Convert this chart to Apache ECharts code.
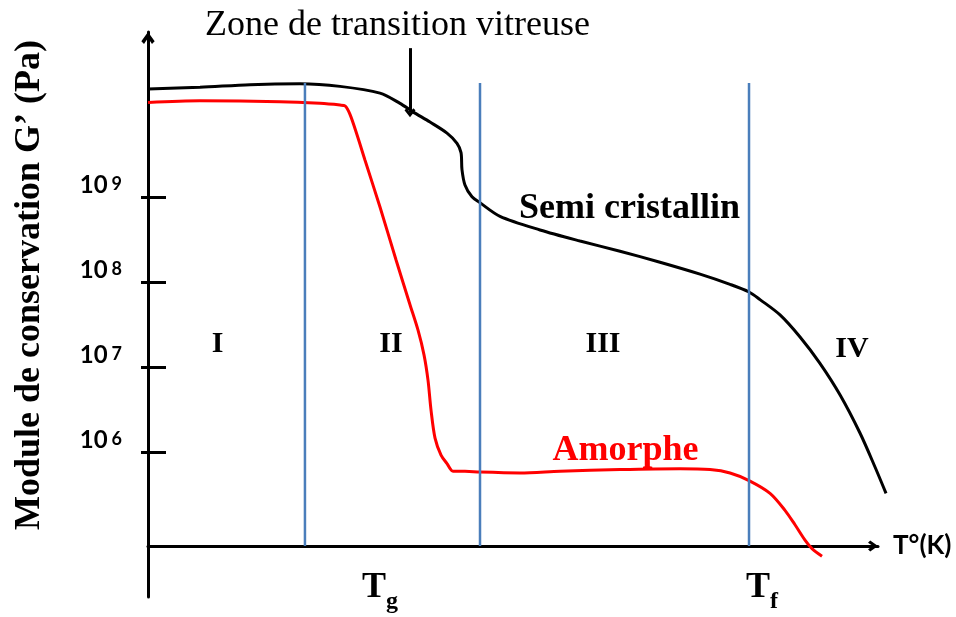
<!DOCTYPE html>
<html>
<head>
<meta charset="utf-8">
<script src="https://cdn.jsdelivr.net/npm/echarts@6/dist/echarts.min.js"></script>
<style>
  html, body { margin: 0; padding: 0; background: #fff; }
  #chart { width: 956px; height: 617px; }
</style>
</head>
<body>
<div id="chart"></div>
<script>
// Temperature (arbitrary linear units, no numeric scale) vs log10 of the storage modulus G' (Pa)
const semiT    = [0, 7.12, 13.97, 20.82, 26.30, 31.78, 34.52, 36.30, 38.63, 40.96, 42.33, 42.88, 43.01, 43.42, 44.38, 45.48, 48.22, 53.70, 59.18, 64.66, 70.14, 75.62, 79.73, 82.33, 83.84, 86.58, 89.32, 92.05, 94.79, 97.53, 99.59, 101.1];
const semiLogG = [10.28, 10.30, 10.33, 10.34, 10.31, 10.23, 10.11, 10.01, 9.89, 9.76, 9.64, 9.53, 9.33, 9.15, 9.01, 8.94, 8.78, 8.62, 8.49, 8.37, 8.24, 8.10, 7.98, 7.89, 7.80, 7.62, 7.36, 7.05, 6.68, 6.23, 5.83, 5.52];

const amorphT    = [0, 7.12, 18.08, 23.56, 26.30, 26.99, 27.67, 28.63, 29.73, 31.78, 33.97, 35.89, 36.99, 37.81, 38.36, 38.77, 39.32, 40.14, 40.96, 41.78, 43.42, 45.48, 50.96, 56.44, 64.66, 72.88, 76.99, 79.73, 82.33, 85.21, 87.26, 88.63, 90.00, 90.96, 92.33];
const amorphLogG = [10.12, 10.14, 10.13, 10.11, 10.09, 10.08, 9.98, 9.74, 9.44, 8.89, 8.27, 7.74, 7.44, 7.15, 6.85, 6.50, 6.17, 5.97, 5.87, 5.78, 5.78, 5.77, 5.76, 5.78, 5.80, 5.81, 5.80, 5.76, 5.67, 5.52, 5.32, 5.15, 4.97, 4.87, 4.78];

// Region boundaries: Tg, end of the transition, Tf
const boundaryT = [21.5, 45.48, 82.33];
const boundaryLogG = [4.9, 10.35];

// Region numerals
const zoneNames = ['I', 'II', 'III', 'IV'];
const zoneT     = [9.52, 33.29, 62.33, 96.44];
const zoneLogG  = [7.28, 7.28, 7.28, 7.22];

// Curve names
const curveNames     = ['Semi cristallin', 'Amorphe'];
const curveColors    = ['#000000', '#ff0000'];
const curveLabelT    = [65.96, 65.41];
const curveLabelLogG = [8.87, 6.02];

// Axis ticks
const yTickValues    = [6, 7, 8, 9];
const yTickExponents = ['6', '7', '8', '9'];
const xMarkValues     = [31.78, 84.11];
const xMarkSubscripts = ['g', 'f'];

// Glass transition pointer
const glassArrowT    = 35.89;
const glassArrowLogG = [10.76, 10.0];

const tMin = 0, tMax = 100;
const logGMin = 4.3, logGMax = 10.95, logGAxisCross = 4.9;

// The drawn T axis ends at its arrow; the plotting area runs a little further
// so the semi-crystalline curve can finish past the arrow without being clipped.
const W = 956, H = 617;
const axisBox = { left: 148, right: 78, top: 32, bottom: 20 };
const plotBox = { left: 148, right: 58, top: 32, bottom: 20 };
const axisWidth = W - axisBox.left - axisBox.right;
const plotWidth = W - plotBox.left - plotBox.right;
const plotTMax = tMin + (tMax - tMin) * plotWidth / axisWidth;
const gridHeight = H - axisBox.top - axisBox.bottom;
const xAxisOffset = -(logGAxisCross - logGMin) / (logGMax - logGMin) * gridHeight;

const chevron = 'path://M5,0 L10,7 L8,9 L5,4.5 L2,9 L0,7 Z';
const serif = 'Liberation Serif';
const sans = 'Lato';

function nearestIndex(arr, v) {
  let best = 0;
  for (let i = 1; i < arr.length; i++) {
    if (Math.abs(arr[i] - v) < Math.abs(arr[best] - v)) best = i;
  }
  return best;
}
const zip = (a, b) => a.map((v, i) => [v, b[i]]);

const boundarySeries = boundaryT.map((t, i) => ({
  name: 'limite ' + (i + 1),
  type: 'line',
  data: boundaryLogG.map(g => [t, g]),
  symbol: 'none',
  silent: true,
  z: 5,
  lineStyle: { color: '#4a7ebb', width: 2.5 }
}));

const option = {
  animation: false,
  backgroundColor: '#ffffff',
  title: {
    text: 'Zone de transition vitreuse',
    left: 205, top: 8, padding: 0,
    textStyle: { fontFamily: serif, fontWeight: 'normal', fontSize: 36, color: '#000' }
  },
  grid: [
    Object.assign({ containLabel: false, outerBoundsMode: 'none' }, plotBox),
    Object.assign({ containLabel: false, outerBoundsMode: 'none' }, axisBox)
  ],
  xAxis: [
    { gridIndex: 0, type: 'value', min: tMin, max: plotTMax, show: false },
    {
      gridIndex: 1, type: 'value', min: tMin, max: tMax, offset: xAxisOffset,
      name: 'T°(K)', nameLocation: 'end', nameGap: 15, nameMoveOverlap: false,
      nameTextStyle: { fontFamily: sans, fontWeight: 'bold', fontSize: 26, color: '#000', align: 'left', verticalAlign: 'middle' },
      axisLine: { show: true, onZero: false, symbol: ['none', chevron], symbolSize: [12, 10], symbolOffset: [0, -5],
                  lineStyle: { color: '#000', width: 3 } },
      axisTick: { show: false },
      splitLine: { show: false },
      axisLabel: {
        customValues: xMarkValues, margin: 24,
        formatter: v => '{t|T}{s|' + xMarkSubscripts[nearestIndex(xMarkValues, v)] + '}',
        rich: {
          t: { fontFamily: serif, fontWeight: 'bold', fontSize: 36, lineHeight: 36, color: '#000', verticalAlign: 'top' },
          s: { fontFamily: serif, fontWeight: 'bold', fontSize: 24, lineHeight: 44, color: '#000', verticalAlign: 'bottom' }
        }
      }
    }
  ],
  yAxis: [
    {
      gridIndex: 0, type: 'value', min: logGMin, max: logGMax, position: 'left',
      name: 'Module de conservation G’ (Pa)', nameLocation: 'middle', nameRotate: 90, nameGap: 100, nameMoveOverlap: false,
      nameTextStyle: { fontFamily: serif, fontWeight: 'bold', fontSize: 36, color: '#000', padding: [0, 0, 0, 59] },
      axisLine: { show: true, onZero: false, symbol: ['none', chevron], symbolSize: [14, 12], symbolOffset: [0, -6],
                  lineStyle: { color: '#000', width: 3 } },
      axisTick: { show: true, inside: true, length: 18, customValues: yTickValues, lineStyle: { color: '#000', width: 3 } },
      splitLine: { show: false },
      axisLabel: {
        customValues: yTickValues, margin: 26, verticalAlign: 'bottom',
        formatter: v => '{b|10}{s|' + yTickExponents[nearestIndex(yTickValues, v)] + '}',
        rich: {
          b: { fontFamily: sans, fontWeight: 'bold', fontSize: 24, lineHeight: 22, color: '#000', verticalAlign: 'bottom' },
          s: { fontFamily: sans, fontWeight: 'bold', fontSize: 18, lineHeight: 12, color: '#000', verticalAlign: 'top', padding: [0, 0, 0, 4] }
        }
      }
    },
    {
      gridIndex: 0, type: 'value', min: logGMin, max: logGMax, position: 'left',
      axisLine: { show: false, onZero: false },
      axisTick: { show: true, inside: false, length: 7, customValues: yTickValues, lineStyle: { color: '#000', width: 3 } },
      axisLabel: { show: false },
      splitLine: { show: false }
    },
    { gridIndex: 1, type: 'value', min: logGMin, max: logGMax, show: false }
  ],
  series: [
    {
      name: curveNames[0], type: 'line', data: zip(semiT, semiLogG),
      symbol: 'none', smooth: 0.3, clip: false, z: 3,
      lineStyle: { color: curveColors[0], width: 3 },
      markLine: {
        silent: true, symbol: ['none', chevron], symbolSize: [11, 9],
        lineStyle: { color: '#000', width: 3, type: 'solid' },
        label: { show: false },
        data: [[{ coord: [glassArrowT, glassArrowLogG[0]] }, { coord: [glassArrowT, glassArrowLogG[1]] }]]
      }
    },
    {
      name: curveNames[1], type: 'line', data: zip(amorphT, amorphLogG),
      symbol: 'none', smooth: 0.3, clip: false, z: 3,
      lineStyle: { color: curveColors[1], width: 3 }
    },
    ...boundarySeries,
    {
      name: 'zones', type: 'scatter', symbolSize: 0, silent: true, z: 6,
      itemStyle: { opacity: 1 },
      data: zoneNames.map((n, i) => ({ name: n, value: [zoneT[i], zoneLogG[i]] })),
      label: { show: true, position: 'inside', formatter: p => p.name, opacity: 1,
               fontFamily: serif, fontWeight: 'bold', fontSize: 30, color: '#000' }
    },
    {
      name: 'noms', type: 'scatter', symbolSize: 0, silent: true, z: 6,
      itemStyle: { opacity: 1 },
      data: curveNames.map((n, i) => ({
        name: n, value: [curveLabelT[i], curveLabelLogG[i]],
        label: { color: curveColors[i] }
      })),
      label: { show: true, position: 'inside', formatter: p => p.name, opacity: 1,
               fontFamily: serif, fontWeight: 'bold', fontSize: 36 }
    }
  ]
};

const chart = echarts.init(document.getElementById('chart'));
chart.setOption(option);
</script>
</body>
</html>
